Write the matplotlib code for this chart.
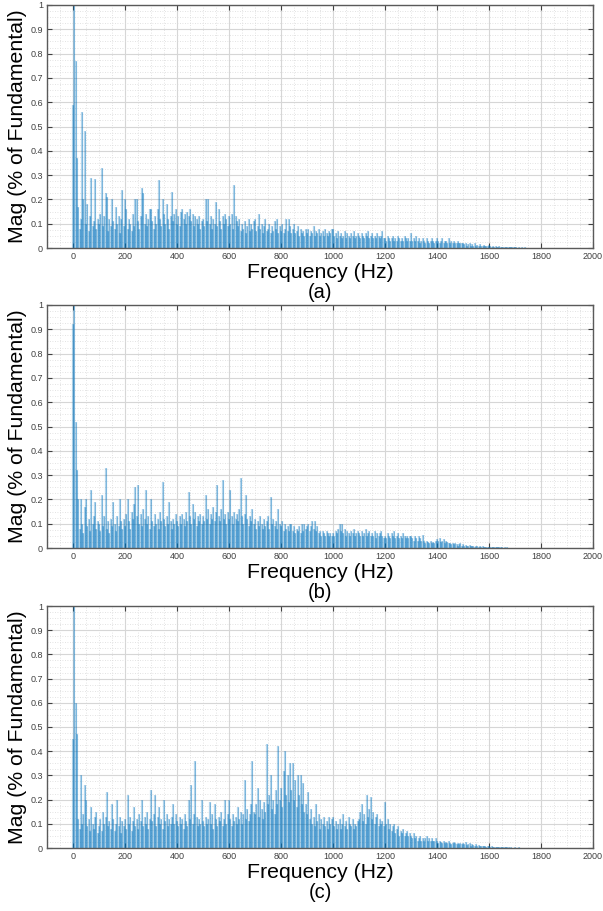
import numpy as np
import matplotlib.pyplot as plt
from matplotlib.ticker import MultipleLocator, FuncFormatter

plt.rcParams['font.family'] = ['Liberation Sans', 'DejaVu Sans']

# spectrum bins, 5 Hz apart, 0 .. 1795 Hz (per unit of fundamental)
freq = np.arange(0, 1800, 5)

mag_a = [
    0.59, 1.00, 0.77, 0.37, 0.17, 0.08, 0.12, 0.56, 0.20, 0.48, 0.10, 0.18, 0.07, 0.13, 0.29, 0.09, 0.11, 0.285, 0.08, 0.12,
    0.10, 0.14, 0.33, 0.09, 0.13, 0.225, 0.21, 0.07, 0.12, 0.09, 0.20, 0.11, 0.08, 0.17, 0.10, 0.13, 0.06, 0.12, 0.24, 0.09,
    0.20, 0.16, 0.08, 0.12, 0.10, 0.07, 0.14, 0.09, 0.20, 0.20, 0.11, 0.08, 0.13, 0.245, 0.225, 0.10, 0.14, 0.09, 0.12, 0.16,
    0.16, 0.11, 0.08, 0.13, 0.10, 0.16, 0.28, 0.12, 0.09, 0.20, 0.14, 0.10, 0.18, 0.12, 0.08, 0.13, 0.23, 0.11, 0.14, 0.16,
    0.10, 0.13, 0.09, 0.15, 0.16, 0.12, 0.14, 0.10, 0.15, 0.13, 0.16, 0.11, 0.14, 0.09, 0.13, 0.12, 0.10, 0.13, 0.08, 0.11,
    0.12, 0.09, 0.20, 0.11, 0.20, 0.10, 0.13, 0.08, 0.12, 0.10, 0.19, 0.09, 0.16, 0.11, 0.08, 0.13, 0.10, 0.14, 0.12, 0.09,
    0.13, 0.10, 0.14, 0.08, 0.26, 0.13, 0.11, 0.09, 0.12, 0.07, 0.10, 0.08, 0.11, 0.06, 0.09, 0.12, 0.07, 0.10, 0.08, 0.11,
    0.12, 0.07, 0.09, 0.14, 0.08, 0.10, 0.06, 0.09, 0.12, 0.07, 0.08, 0.10, 0.06, 0.09, 0.07, 0.11, 0.08, 0.12, 0.06, 0.09,
    0.07, 0.10, 0.06, 0.08, 0.12, 0.07, 0.12, 0.09, 0.06, 0.08, 0.10, 0.06, 0.07, 0.09, 0.05, 0.08, 0.06, 0.07, 0.05, 0.08,
    0.06, 0.08, 0.05, 0.07, 0.06, 0.09, 0.05, 0.07, 0.06, 0.08, 0.05, 0.06, 0.07, 0.05, 0.08, 0.06, 0.05, 0.07, 0.06, 0.08,
    0.08, 0.05, 0.06, 0.04, 0.07, 0.05, 0.06, 0.04, 0.05, 0.07, 0.04, 0.06, 0.05, 0.04, 0.06, 0.05, 0.07, 0.04, 0.05, 0.06,
    0.05, 0.04, 0.06, 0.05, 0.04, 0.06, 0.05, 0.07, 0.04, 0.05, 0.06, 0.04, 0.05, 0.04, 0.06, 0.05, 0.04, 0.05, 0.07, 0.04,
    0.04, 0.03, 0.05, 0.04, 0.03, 0.04, 0.05, 0.03, 0.04, 0.03, 0.05, 0.04, 0.03, 0.04, 0.03, 0.05, 0.04, 0.03, 0.04, 0.03,
    0.06, 0.03, 0.04, 0.03, 0.05, 0.03, 0.04, 0.02, 0.03, 0.04, 0.03, 0.02, 0.04, 0.03, 0.02, 0.03, 0.04, 0.03, 0.02, 0.03,
    0.04, 0.03, 0.02, 0.03, 0.04, 0.02, 0.03, 0.03, 0.02, 0.04, 0.02, 0.03, 0.02, 0.03, 0.02, 0.02, 0.03, 0.02, 0.02, 0.02,
    0.02, 0.015, 0.02, 0.01, 0.015, 0.02, 0.01, 0.015, 0.01, 0.02, 0.01, 0.012, 0.01, 0.015, 0.01, 0.008, 0.012, 0.01, 0.008, 0.01,
    0.012, 0.008, 0.006, 0.01, 0.005, 0.007, 0.006, 0.005, 0.008, 0.004, 0.006, 0.005, 0.004, 0.006, 0.003, 0.005, 0.004, 0.003, 0.004, 0.003,
    0.004, 0.003, 0.002, 0.004, 0.002, 0.003, 0.002, 0.002, 0.003, 0.001, 0, 0, 0, 0, 0, 0, 0, 0, 0, 0,
]

mag_b = [
    0.92, 1.00, 0.52, 0.32, 0.20, 0.08, 0.20, 0.10, 0.06, 0.17, 0.20, 0.09, 0.12, 0.07, 0.24, 0.10, 0.13, 0.19, 0.08, 0.11,
    0.10, 0.07, 0.22, 0.09, 0.13, 0.33, 0.08, 0.11, 0.06, 0.12, 0.09, 0.19, 0.10, 0.07, 0.13, 0.09, 0.20, 0.11, 0.08, 0.12,
    0.09, 0.14, 0.20, 0.11, 0.08, 0.15, 0.12, 0.18, 0.25, 0.13, 0.26, 0.10, 0.14, 0.09, 0.16, 0.12, 0.24, 0.10, 0.13, 0.08,
    0.20, 0.11, 0.09, 0.14, 0.10, 0.12, 0.08, 0.15, 0.11, 0.27, 0.12, 0.09, 0.13, 0.10, 0.19, 0.11, 0.08, 0.12, 0.10, 0.14,
    0.11, 0.09, 0.13, 0.10, 0.14, 0.12, 0.09, 0.15, 0.11, 0.23, 0.13, 0.10, 0.18, 0.12, 0.15, 0.09, 0.13, 0.11, 0.14, 0.10,
    0.13, 0.11, 0.22, 0.12, 0.16, 0.10, 0.14, 0.12, 0.17, 0.11, 0.15, 0.26, 0.13, 0.11, 0.16, 0.28, 0.12, 0.14, 0.10, 0.15,
    0.12, 0.24, 0.13, 0.10, 0.15, 0.12, 0.14, 0.11, 0.16, 0.29, 0.13, 0.10, 0.14, 0.22, 0.12, 0.09, 0.13, 0.11, 0.16, 0.10,
    0.12, 0.08, 0.11, 0.09, 0.13, 0.10, 0.08, 0.12, 0.09, 0.11, 0.13, 0.08, 0.21, 0.10, 0.12, 0.09, 0.11, 0.08, 0.16, 0.10,
    0.09, 0.11, 0.07, 0.10, 0.08, 0.09, 0.07, 0.10, 0.10, 0.07, 0.09, 0.06, 0.08, 0.07, 0.09, 0.06, 0.10, 0.07, 0.10, 0.08,
    0.09, 0.10, 0.07, 0.09, 0.11, 0.08, 0.11, 0.07, 0.09, 0.06, 0.07, 0.05, 0.07, 0.06, 0.05, 0.07, 0.06, 0.05, 0.06, 0.05,
    0.06, 0.05, 0.07, 0.06, 0.08, 0.10, 0.07, 0.10, 0.06, 0.08, 0.05, 0.07, 0.06, 0.05, 0.07, 0.06, 0.08, 0.05, 0.06, 0.07,
    0.06, 0.05, 0.07, 0.05, 0.06, 0.08, 0.05, 0.06, 0.07, 0.05, 0.06, 0.05, 0.07, 0.04, 0.06, 0.05, 0.06, 0.07, 0.05, 0.04,
    0.05, 0.04, 0.06, 0.05, 0.04, 0.06, 0.05, 0.07, 0.04, 0.05, 0.06, 0.04, 0.05, 0.04, 0.06, 0.05, 0.04, 0.05, 0.04, 0.05,
    0.05, 0.04, 0.03, 0.05, 0.04, 0.03, 0.05, 0.04, 0.03, 0.055, 0.03, 0.02, 0.03, 0.025, 0.02, 0.03, 0.02, 0.025, 0.02, 0.03,
    0.035, 0.03, 0.04, 0.025, 0.03, 0.035, 0.02, 0.03, 0.025, 0.02, 0.02, 0.015, 0.02, 0.015, 0.02, 0.015, 0.01, 0.015, 0.02, 0.01,
    0.015, 0.01, 0.012, 0.01, 0.008, 0.012, 0.01, 0.008, 0.01, 0.006, 0.008, 0.01, 0.006, 0.008, 0.005, 0.007, 0.006, 0.005, 0.006, 0.004,
    0.006, 0.004, 0.005, 0.003, 0.005, 0.004, 0.003, 0.004, 0.003, 0.005, 0.003, 0.002, 0.003, 0.002, 0.003, 0.002, 0.002, 0.001, 0.002, 0.001,
    0.001, 0.001, 0, 0, 0, 0, 0, 0, 0, 0, 0, 0, 0, 0, 0, 0, 0, 0, 0, 0,
]

mag_c = [
    0.45, 1.00, 0.60, 0.47, 0.12, 0.08, 0.30, 0.10, 0.14, 0.26, 0.20, 0.09, 0.12, 0.07, 0.17, 0.10, 0.08, 0.13, 0.15, 0.06,
    0.09, 0.12, 0.07, 0.15, 0.10, 0.13, 0.23, 0.09, 0.11, 0.08, 0.18, 0.12, 0.07, 0.10, 0.20, 0.09, 0.13, 0.06, 0.11, 0.09,
    0.12, 0.08, 0.22, 0.10, 0.13, 0.07, 0.11, 0.17, 0.09, 0.12, 0.08, 0.14, 0.11, 0.20, 0.09, 0.13, 0.10, 0.15, 0.08, 0.12,
    0.24, 0.11, 0.14, 0.22, 0.09, 0.13, 0.17, 0.10, 0.12, 0.08, 0.20, 0.11, 0.14, 0.09, 0.12, 0.10, 0.13, 0.18, 0.10, 0.14,
    0.11, 0.09, 0.13, 0.10, 0.12, 0.08, 0.14, 0.11, 0.09, 0.20, 0.12, 0.26, 0.10, 0.14, 0.36, 0.13, 0.09, 0.12, 0.10, 0.20,
    0.11, 0.09, 0.13, 0.10, 0.12, 0.19, 0.10, 0.14, 0.08, 0.18, 0.12, 0.09, 0.13, 0.11, 0.15, 0.09, 0.12, 0.20, 0.10, 0.14,
    0.20, 0.12, 0.09, 0.14, 0.11, 0.13, 0.10, 0.17, 0.12, 0.15, 0.10, 0.14, 0.28, 0.12, 0.16, 0.11, 0.14, 0.18, 0.36, 0.15,
    0.14, 0.18, 0.25, 0.13, 0.20, 0.16, 0.12, 0.19, 0.15, 0.43, 0.18, 0.22, 0.30, 0.16, 0.20, 0.14, 0.24, 0.18, 0.42, 0.20,
    0.25, 0.17, 0.32, 0.40, 0.22, 0.30, 0.19, 0.35, 0.24, 0.35, 0.20, 0.28, 0.17, 0.30, 0.22, 0.30, 0.18, 0.27, 0.15, 0.18,
    0.14, 0.23, 0.12, 0.16, 0.10, 0.13, 0.09, 0.18, 0.11, 0.14, 0.08, 0.12, 0.10, 0.13, 0.09, 0.11, 0.08, 0.13, 0.10, 0.12,
    0.13, 0.09, 0.11, 0.08, 0.10, 0.12, 0.08, 0.10, 0.14, 0.09, 0.11, 0.08, 0.13, 0.10, 0.09, 0.12, 0.08, 0.10, 0.09, 0.11,
    0.12, 0.15, 0.18, 0.11, 0.14, 0.10, 0.22, 0.13, 0.16, 0.21, 0.12, 0.15, 0.10, 0.13, 0.14, 0.09, 0.12, 0.10, 0.11, 0.09,
    0.19, 0.10, 0.12, 0.08, 0.10, 0.07, 0.09, 0.10, 0.06, 0.08, 0.09, 0.05, 0.07, 0.06, 0.08, 0.05, 0.06, 0.07, 0.05, 0.06,
    0.05, 0.04, 0.06, 0.04, 0.05, 0.03, 0.04, 0.05, 0.03, 0.04, 0.03, 0.04, 0.05, 0.03, 0.04, 0.03, 0.04, 0.03, 0.03, 0.04,
    0.03, 0.02, 0.03, 0.025, 0.02, 0.03, 0.02, 0.025, 0.02, 0.03, 0.02, 0.015, 0.02, 0.025, 0.02, 0.015, 0.02, 0.015, 0.02, 0.015,
    0.02, 0.015, 0.025, 0.012, 0.015, 0.02, 0.01, 0.015, 0.012, 0.01, 0.015, 0.008, 0.012, 0.01, 0.008, 0.01, 0.008, 0.01, 0.006, 0.008,
    0.008, 0.006, 0.007, 0.005, 0.006, 0.004, 0.006, 0.005, 0.004, 0.005, 0.003, 0.005, 0.004, 0.003, 0.004, 0.003, 0.002, 0.003, 0.002, 0.002,
    0.003, 0.002, 0.002, 0.003, 0.002, 0.001, 0.002, 0.001, 0.001, 0, 0, 0, 0, 0, 0, 0, 0, 0, 0, 0,
]

panels = [mag_a, mag_b, mag_c]
captions = ['(a)', '(b)', '(c)']
xticks = np.arange(0, 2001, 200)
yticks = np.arange(0, 1.01, 0.1)

W, H = 603, 911
fig = plt.figure(figsize=(W / 100, H / 100), dpi=100)

# axes boxes in pixels: left, top, right, bottom
boxes = [(47, 5, 593, 248), (47, 305, 593, 548), (47, 606, 593, 848)]

for mag, cap, (l, t, r, b) in zip(panels, captions, boxes):
    ax = fig.add_axes([l / W, 1 - b / H, (r - l) / W, (b - t) / H])
    # light outline of each line plus a darker core for the lower part
    ax.vlines(freq, 0, mag, color='#0072BD', alpha=0.3, linewidth=1.6)
    ax.vlines(freq, 0, mag, color='#0072BD', alpha=0.35, linewidth=0.6)
    ax.set_xlim(-100, 2000)
    ax.set_ylim(0, 1)
    ax.set_xticks(xticks)
    ax.set_yticks(yticks)
    ax.xaxis.set_minor_locator(MultipleLocator(50))
    ax.yaxis.set_minor_locator(MultipleLocator(0.025))
    ax.yaxis.set_major_formatter(FuncFormatter(lambda v, p: '%g' % round(v, 1)))
    ax.grid(which='major', color='#d6d6d6', linewidth=0.8)
    ax.grid(which='minor', color='#d9d9d9', linewidth=0.6, linestyle=(0, (1, 2)))
    ax.set_axisbelow(True)
    ax.tick_params(which='major', direction='in', length=3.5, width=0.8, color='#404040',
                   top=True, right=True, labelsize=6.5, labelcolor='#404040', pad=3)
    ax.tick_params(which='minor', length=0, top=True, right=True)
    for s in ax.spines.values():
        s.set_color('#5a5a5a')
        s.set_linewidth(1.0)
    fig.text(320 / W, 1 - (b + 24) / H, 'Frequency (Hz)', ha='center', va='center', fontsize=15.3)
    fig.text(320 / W, 1 - (b + 44) / H, cap, ha='center', va='center', fontsize=14.5)
    fig.text(18 / W, 1 - (t + b) / 2 / H, 'Mag (% of Fundamental)', rotation=90,
             ha='center', va='center', fontsize=15.3)

fig.savefig('out.png', dpi=100)
